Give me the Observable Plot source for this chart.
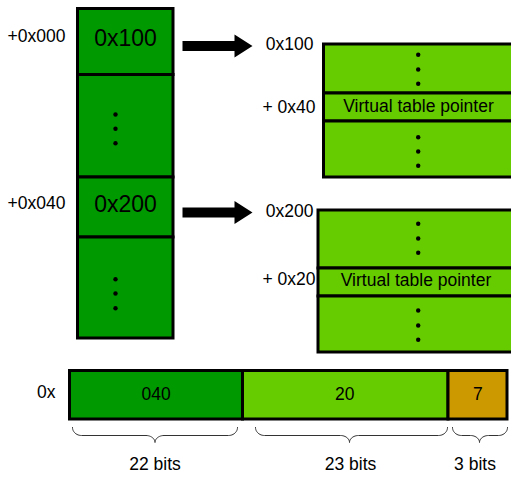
<!DOCTYPE html>
<html>
<head>
<meta charset="utf-8">
<script src="https://cdn.jsdelivr.net/npm/d3@7"></script>
<script src="https://cdn.jsdelivr.net/npm/@observablehq/plot@0.6"></script>
<style>
  html, body { margin: 0; padding: 0; background: white; }
  #chart svg { display: block; }
</style>
</head>
<body>
<div id="chart"></div>
<script>
// ---- content ----
const objectCells = ["0x100", "", "0x200", ""];          // left object column
const objectOffsets = ["+0x000", "+0x040"];              // offsets of pointer slots
const tableBases = ["0x100", "0x200"];                   // target object base addresses
const vptrOffsets = ["+ 0x40", "+ 0x20"];                // vptr offsets in targets
const tableMiddle = "Virtual table pointer";
const fieldValues = ["040", "20", "7"];                  // packed pointer fields
const fieldBits = [22, 23, 3];
const fieldLabels = fieldBits.map(b => `${b} bits`);
const prefixLabel = "0x";

// ---- colours ----
const DARK = "#009900", LIGHT = "#66cc00", ORANGE = "#cc9900";
const fieldColors = [DARK, LIGHT, ORANGE];

// ---- layout (pixel geometry of the diagram) ----
const colX = [77.5, 173];
const colY = [8.5, 74.5, 177, 237, 338];
const boxes = [
  {x1: 323.5, ys: [44, 93, 121, 177]},
  {x1: 318, ys: [210, 268, 296, 352]}
];
const barY = [370.5, 419];
const barX = [69.5, 242.5, 448, 507];
const braceY = [427, 435, 442];
const braceSpans = [[72, 237, 154.5], [255, 447, 349], [452, 507, 479]];
const arrowYs = [45.5, 212];

// ---- derived mark data ----
const leftRects = objectCells.map((t, i) => ({x1: colX[0], x2: colX[1], y1: colY[i], y2: colY[i + 1], t}));
const leftTexts = [
  {x: 125, y: 38.5, t: objectCells[0]},
  {x: 125, y: 204.5, t: objectCells[2]}
];
const offsetTexts = objectOffsets.map((t, i) => ({x: 65, y: [35.5, 202.5][i], t}));

const rightRects = boxes.flatMap(b => [0, 1, 2].map(k => ({x1: b.x1, x2: 520, y1: b.ys[k], y2: b.ys[k + 1], fill: LIGHT})));
const baseTexts = tableBases.map((t, i) => ({x: 313, y: [44, 211][i], t}));
const vptrTexts = vptrOffsets.map((t, i) => ({x: 315, y: [106.5, 279][i], t}));
const middleTexts = boxes.map((b, i) => ({x: [418, 415.5][i], y: [105.5, 279.5][i], t: tableMiddle}));

const dots = [];
[[114, 128.3, 142.7], [278.7, 293, 307.7]].forEach(ys => ys.forEach(y => dots.push({x: 115, y})));
[[54.3, 69, 83.3], [136.7, 151, 165.3], [223.3, 238, 252.3], [310, 325, 339.3]]
  .forEach(ys => ys.forEach(y => dots.push({x: 417.7, y})));

const arrowPts = [];
arrowYs.forEach((cy, id) => {
  const x0 = 182, xh = 234, xt = 252, sh = 5, hh = 11.5;
  [[x0, cy - sh], [xh, cy - sh], [xh, cy - hh], [xt, cy], [xh, cy + hh], [xh, cy + sh], [x0, cy + sh]]
    .forEach(([x, y]) => arrowPts.push({id, x, y}));
});

const barRects = fieldValues.map((t, i) => ({x1: barX[i], x2: barX[i + 1], y1: barY[0], y2: barY[1], fill: fieldColors[i]}));
const barTexts = fieldValues.map((t, i) => ({x: [155.7, 344.3, 477.3][i], y: 394, t}));
const bitTexts = fieldLabels.map((t, i) => ({x: [154.5, 350, 474.5][i], y: 464, t}));

const bracePts = [];
braceSpans.forEach(([a, b, m], id) => {
  const [y0, y1, y2] = braceY;
  const r = Math.min(9, (m - a) / 3);
  const N = 12;
  const seg = [];
  for (let k = 0; k <= N; k++) { const th = k / N * Math.PI / 2; seg.push([a + r * (1 - Math.cos(th)), y0 + (y1 - y0) * Math.sin(th)]); }
  for (let k = 0; k <= N; k++) { const th = k / N * Math.PI / 2; seg.push([m - r + r * Math.sin(th), y2 - (y2 - y1) * Math.cos(th)]); }
  for (let k = N; k >= 0; k--) { const th = k / N * Math.PI / 2; seg.push([m + r - r * Math.sin(th), y2 - (y2 - y1) * Math.cos(th)]); }
  for (let k = N; k >= 0; k--) { const th = k / N * Math.PI / 2; seg.push([b - r * (1 - Math.cos(th)), y0 + (y1 - y0) * Math.sin(th)]); }
  seg.forEach(([x, y]) => bracePts.push({id, x, y}));
});

const FONT = "Liberation Sans, Arial, Helvetica, sans-serif";
const txt = (data, opts) => Plot.text(data, {x: "x", y: "y", text: "t", lineAnchor: "middle", fill: "black", fontSize: 17.5, ...opts});

const chart = Plot.plot({
  width: 511,
  height: 477,
  margin: 0,
  x: {domain: [0, 511], range: [0, 511], axis: null},
  y: {domain: [0, 477], range: [0, 477], axis: null},
  style: {fontFamily: FONT, background: "white"},
  marks: [
    Plot.rect(leftRects, {x1: "x1", x2: "x2", y1: "y1", y2: "y2", fill: DARK, stroke: "black", strokeWidth: 3}),
    Plot.rect(rightRects, {x1: "x1", x2: "x2", y1: "y1", y2: "y2", fill: "fill", stroke: "black", strokeWidth: 3}),
    Plot.rect(barRects, {x1: "x1", x2: "x2", y1: "y1", y2: "y2", fill: "fill", stroke: "black", strokeWidth: 3}),
    Plot.dot(dots, {x: "x", y: "y", r: 2.2, fill: "black", stroke: "none"}),
    Plot.line(arrowPts, {x: "x", y: "y", z: "id", fill: "black", stroke: "none", curve: "linear-closed"}),
    Plot.line(bracePts, {x: "x", y: "y", z: "id", stroke: "#333", strokeWidth: 1, fill: "none"}),
    txt(leftTexts, {fontSize: 23, textAnchor: "middle"}),
    txt(offsetTexts, {textAnchor: "end"}),
    txt(baseTexts, {textAnchor: "end"}),
    txt(vptrTexts, {textAnchor: "end"}),
    txt(middleTexts, {textAnchor: "middle"}),
    txt(barTexts, {textAnchor: "middle"}),
    txt([{x: 55, y: 392, t: prefixLabel}], {textAnchor: "end"}),
    txt(bitTexts, {textAnchor: "middle"})
  ]
});
document.getElementById("chart").appendChild(chart);
</script>
</body>
</html>
